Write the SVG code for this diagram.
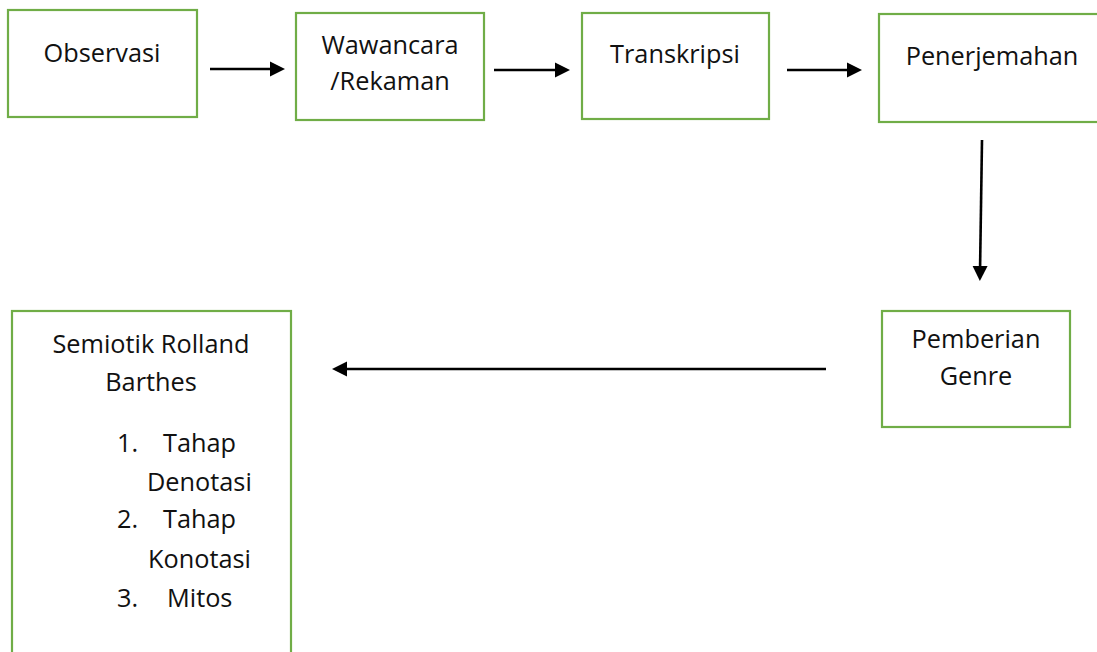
<svg xmlns="http://www.w3.org/2000/svg" width="1097" height="652" viewBox="0 0 1097 652">
<style>
.box{fill:#fff;stroke:#70AD47;stroke-width:2.2}
.t{font-family:"Open Sans","Noto Sans","Liberation Sans",sans-serif;font-size:25.3px;fill:#111}
.c{text-anchor:middle}
.arr{stroke:#000;stroke-width:2.6;fill:none}
</style>
<defs>
<marker id="ah" markerUnits="userSpaceOnUse" markerWidth="16" markerHeight="16" refX="0" refY="7.5" orient="auto" overflow="visible">
<path d="M0,0 L15,7.5 L0,15 z" fill="#000"/>
</marker>
</defs>
<rect width="1097" height="652" fill="#fff"/>
<g id="connectors">
<line class="arr" x1="210" y1="69" x2="270" y2="69" marker-end="url(#ah)"/>
<line class="arr" x1="494" y1="70" x2="555" y2="70" marker-end="url(#ah)"/>
<line class="arr" x1="787" y1="70" x2="847" y2="70" marker-end="url(#ah)"/>
<line class="arr" x1="982" y1="140" x2="980.1" y2="266" marker-end="url(#ah)"/>
<line class="arr" x1="826" y1="369" x2="347" y2="369" marker-end="url(#ah)"/>
</g>
<g id="observasi">
<rect class="box" x="8" y="10" width="189" height="107"/>
<text class="t c" x="102" y="62">Observasi</text>
</g>
<g id="wawancara">
<rect class="box" x="296" y="13" width="188" height="107"/>
<text class="t c" x="390" y="54">Wawancara</text>
<text class="t c" x="390" y="90">/Rekaman</text>
</g>
<g id="transkripsi">
<rect class="box" x="582" y="13" width="187" height="106"/>
<text class="t c" x="675" y="63">Transkripsi</text>
</g>
<g id="penerjemahan">
<rect class="box" x="879" y="14" width="240" height="108"/>
<text class="t c" x="992" y="65">Penerjemahan</text>
</g>
<g id="pemberian-genre">
<rect class="box" x="882" y="311" width="188" height="116"/>
<text class="t c" x="976" y="348">Pemberian</text>
<text class="t c" x="976" y="385">Genre</text>
</g>
<g id="semiotik">
<rect class="box" x="12" y="311" width="279" height="360"/>
<text class="t c" x="151" y="353">Semiotik Rolland</text>
<text class="t c" x="151" y="391">Barthes</text>
<text class="t" x="117" y="452">1.</text>
<text class="t" x="163" y="452">Tahap</text>
<text class="t" x="147" y="491">Denotasi</text>
<text class="t" x="117" y="528">2.</text>
<text class="t" x="163" y="528">Tahap</text>
<text class="t" x="148" y="568">Konotasi</text>
<text class="t" x="117" y="607">3.</text>
<text class="t" x="167" y="607">Mitos</text>
</g>
</svg>
